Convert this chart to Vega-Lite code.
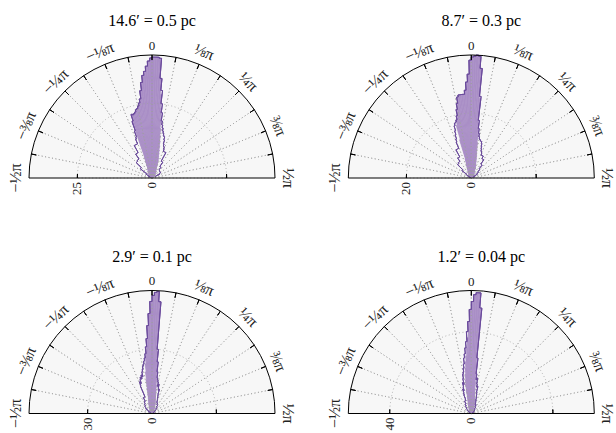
{
"$schema": "https://vega.github.io/schema/vega-lite/v6.json",
"background": "white",
"padding": {"left": 7, "top": 13, "right": 5, "bottom": 5},
"config": {"view": {"stroke": null}, "title": {"font": "Liberation Serif", "fontSize": 16, "fontWeight": "normal", "color": "#000000", "offset": 10}, "text": {"font": "Liberation Serif", "fontSize": 13, "color": "#000000"}},
"datasets": {
"ticks": [{"t":-1.3744},{"t":-1.1781},{"t":-0.9817},{"t":-0.7854},{"t":-0.589},{"t":-0.3927},{"t":-0.1963},{"t":0},{"t":0.1963},{"t":0.3927},{"t":0.589},{"t":0.7854},{"t":0.9817},{"t":1.1781},{"t":1.3744}],
"angles": [{"t":-1.5708,"lab":"−½π"},{"t":-1.1781,"lab":"−⅜π"},{"t":-0.7854,"lab":"−¼π"},{"t":-0.3927,"lab":"−⅛π"},{"t":0,"lab":"0"},{"t":0.3927,"lab":"⅛π"},{"t":0.7854,"lab":"¼π"},{"t":1.1781,"lab":"⅜π"},{"t":1.5708,"lab":"½π"}],
"p1": [
{"a":-1.2,"b":-1.1,"f":0.3,"o":0.7},{"a":-1.1,"b":-1.0,"f":0.7,"o":1.3},{"a":-1.0,"b":-0.9,"f":1.0,"o":2.3},{"a":-0.9,"b":-0.8,"f":1.3,"o":5.0},{"a":-0.8,"b":-0.7,"f":1.7,"o":7.4},{"a":-0.7,"b":-0.6,"f":2.0,"o":7.7},{"a":-0.6,"b":-0.5,"f":2.7,"o":9.7},{"a":-0.5,"b":-0.4,"f":3.4,"o":12.4},
{"a":-0.40,"b":-0.38,"f":4.7,"o":14.1},{"a":-0.38,"b":-0.36,"f":6.0,"o":14.7},{"a":-0.36,"b":-0.34,"f":7.4,"o":16.8},{"a":-0.34,"b":-0.32,"f":20.1,"o":20.1},{"a":-0.32,"b":-0.30,"f":22.1,"o":22.4},{"a":-0.30,"b":-0.28,"f":22.1,"o":22.1},{"a":-0.28,"b":-0.26,"f":22.4,"o":22.4},{"a":-0.26,"b":-0.24,"f":22.8,"o":22.8},{"a":-0.24,"b":-0.22,"f":23.5,"o":23.5},{"a":-0.22,"b":-0.20,"f":23.8,"o":23.8},
{"a":-0.20,"b":-0.18,"f":24.5,"o":24.5},{"a":-0.18,"b":-0.16,"f":25.5,"o":25.5},{"a":-0.16,"b":-0.14,"f":26.8,"o":26.8},{"a":-0.14,"b":-0.12,"f":29.5,"o":29.5},{"a":-0.12,"b":-0.10,"f":32.2,"o":32.2},{"a":-0.10,"b":-0.08,"f":34.5,"o":34.5},{"a":-0.08,"b":-0.06,"f":35.8,"o":35.8},{"a":-0.06,"b":-0.04,"f":37.5,"o":37.5},{"a":-0.04,"b":-0.02,"f":39.2,"o":39.2},{"a":-0.02,"b":0.0,"f":40.2,"o":40.2},
{"a":0.0,"b":0.02,"f":40.5,"o":40.5},{"a":0.02,"b":0.04,"f":40.5,"o":40.5},{"a":0.04,"b":0.06,"f":40.5,"o":40.5},{"a":0.06,"b":0.08,"f":40.2,"o":40.2},{"a":0.08,"b":0.10,"f":33.5,"o":33.5},{"a":0.10,"b":0.12,"f":28.1,"o":29.5},{"a":0.12,"b":0.14,"f":23.5,"o":25.1},{"a":0.14,"b":0.16,"f":20.1,"o":22.1},{"a":0.16,"b":0.18,"f":16.8,"o":19.4},{"a":0.18,"b":0.20,"f":14.4,"o":18.1},
{"a":0.20,"b":0.22,"f":12.7,"o":17.1},{"a":0.22,"b":0.24,"f":11.1,"o":16.1},{"a":0.24,"b":0.26,"f":9.7,"o":15.4},{"a":0.26,"b":0.28,"f":8.7,"o":14.7},{"a":0.28,"b":0.30,"f":7.7,"o":14.4},{"a":0.30,"b":0.32,"f":7.0,"o":13.4},{"a":0.32,"b":0.34,"f":6.4,"o":12.1},{"a":0.34,"b":0.36,"f":5.7,"o":11.4},{"a":0.36,"b":0.38,"f":5.0,"o":11.1},{"a":0.38,"b":0.40,"f":4.4,"o":10.4},
{"a":0.4,"b":0.5,"f":3.4,"o":9.7},{"a":0.5,"b":0.6,"f":2.7,"o":6.4},{"a":0.6,"b":0.7,"f":2.0,"o":4.7},{"a":0.7,"b":0.8,"f":1.7,"o":3.7},{"a":0.8,"b":0.9,"f":1.3,"o":3.4},{"a":0.9,"b":1.0,"f":1.0,"o":3.4},{"a":1.0,"b":1.1,"f":0.7,"o":3.0},{"a":1.1,"b":1.2,"f":0.3,"o":1.3}
],
"p2": [
{"a":-1.2,"b":-1.1,"f":0.3,"o":0.3},{"a":-1.1,"b":-1.0,"f":0.3,"o":0.9},{"a":-1.0,"b":-0.9,"f":0.6,"o":1.8},{"a":-0.9,"b":-0.8,"f":0.9,"o":3.7},{"a":-0.8,"b":-0.7,"f":1.2,"o":5.9},{"a":-0.7,"b":-0.6,"f":1.5,"o":6.2},{"a":-0.6,"b":-0.5,"f":1.8,"o":7.4},{"a":-0.5,"b":-0.4,"f":2.5,"o":9.9},
{"a":-0.40,"b":-0.38,"f":3.1,"o":12.0},{"a":-0.38,"b":-0.36,"f":3.7,"o":12.9},{"a":-0.36,"b":-0.34,"f":4.3,"o":14.2},{"a":-0.34,"b":-0.32,"f":4.9,"o":15.4},{"a":-0.32,"b":-0.30,"f":6.2,"o":16.9},{"a":-0.30,"b":-0.28,"f":12.3,"o":17.6},{"a":-0.28,"b":-0.26,"f":16.9,"o":17.9},{"a":-0.26,"b":-0.24,"f":18.5,"o":18.5},{"a":-0.24,"b":-0.22,"f":19.7,"o":19.7},{"a":-0.22,"b":-0.20,"f":21.6,"o":21.6},
{"a":-0.20,"b":-0.18,"f":23.4,"o":23.4},{"a":-0.18,"b":-0.16,"f":25.3,"o":25.3},{"a":-0.16,"b":-0.14,"f":25.9,"o":25.9},{"a":-0.14,"b":-0.12,"f":25.9,"o":25.9},{"a":-0.12,"b":-0.10,"f":25.9,"o":25.9},{"a":-0.10,"b":-0.08,"f":25.9,"o":25.9},{"a":-0.08,"b":-0.06,"f":27.1,"o":27.1},{"a":-0.06,"b":-0.04,"f":29.6,"o":29.6},{"a":-0.04,"b":-0.02,"f":32.0,"o":32.0},{"a":-0.02,"b":0.0,"f":36.3,"o":36.3},
{"a":0.0,"b":0.02,"f":37.3,"o":37.3},{"a":0.02,"b":0.04,"f":37.6,"o":37.6},{"a":0.04,"b":0.06,"f":37.9,"o":37.9},{"a":0.06,"b":0.08,"f":37.6,"o":37.6},{"a":0.08,"b":0.10,"f":33.9,"o":33.9},{"a":0.10,"b":0.12,"f":24.6,"o":25.3},{"a":0.12,"b":0.14,"f":16.9,"o":17.9},{"a":0.14,"b":0.16,"f":13.6,"o":15.4},{"a":0.16,"b":0.18,"f":11.1,"o":13.9},{"a":0.18,"b":0.20,"f":9.2,"o":12.9},
{"a":0.20,"b":0.22,"f":8.0,"o":12.3},{"a":0.22,"b":0.24,"f":7.1,"o":12.0},{"a":0.24,"b":0.26,"f":6.2,"o":11.7},{"a":0.26,"b":0.28,"f":5.5,"o":11.7},{"a":0.28,"b":0.30,"f":4.9,"o":11.1},{"a":0.30,"b":0.32,"f":4.3,"o":10.2},{"a":0.32,"b":0.34,"f":4.0,"o":9.5},{"a":0.34,"b":0.36,"f":3.7,"o":8.9},{"a":0.36,"b":0.38,"f":3.4,"o":8.6},{"a":0.38,"b":0.40,"f":3.1,"o":8.3},
{"a":0.4,"b":0.5,"f":2.5,"o":7.7},{"a":0.5,"b":0.6,"f":1.8,"o":6.8},{"a":0.6,"b":0.7,"f":1.5,"o":5.2},{"a":0.7,"b":0.8,"f":1.2,"o":3.7},{"a":0.8,"b":0.9,"f":0.9,"o":2.8},{"a":0.9,"b":1.0,"f":0.6,"o":2.2},{"a":1.0,"b":1.1,"f":0.3,"o":1.2},{"a":1.1,"b":1.2,"f":0.3,"o":0.6}
],
"p3": [
{"a":-1.2,"b":-1.1,"f":0.2,"o":0.5},{"a":-1.1,"b":-1.0,"f":0.5,"o":1.4},{"a":-1.0,"b":-0.9,"f":0.5,"o":2.3},{"a":-0.9,"b":-0.8,"f":0.9,"o":3.7},{"a":-0.8,"b":-0.7,"f":0.9,"o":4.7},{"a":-0.7,"b":-0.6,"f":1.4,"o":5.6},{"a":-0.6,"b":-0.5,"f":1.9,"o":6.5},{"a":-0.5,"b":-0.4,"f":2.3,"o":8.4},
{"a":-0.40,"b":-0.38,"f":2.8,"o":14.0},{"a":-0.38,"b":-0.36,"f":3.3,"o":15.8},{"a":-0.36,"b":-0.34,"f":3.7,"o":14.9},{"a":-0.34,"b":-0.32,"f":4.2,"o":16.8},{"a":-0.32,"b":-0.30,"f":4.7,"o":17.7},{"a":-0.30,"b":-0.28,"f":5.1,"o":16.8},{"a":-0.28,"b":-0.26,"f":5.6,"o":18.6},{"a":-0.26,"b":-0.24,"f":6.5,"o":17.7},{"a":-0.24,"b":-0.22,"f":7.5,"o":20.0},{"a":-0.22,"b":-0.20,"f":9.3,"o":21.0},
{"a":-0.20,"b":-0.18,"f":12.1,"o":22.4},{"a":-0.18,"b":-0.16,"f":15.8,"o":23.3},{"a":-0.16,"b":-0.14,"f":19.6,"o":24.7},{"a":-0.14,"b":-0.12,"f":23.3,"o":26.1},{"a":-0.12,"b":-0.10,"f":27.0,"o":28.0},{"a":-0.10,"b":-0.08,"f":30.8,"o":31.2},{"a":-0.08,"b":-0.06,"f":35.0,"o":35.0},{"a":-0.06,"b":-0.04,"f":41.0,"o":41.0},{"a":-0.04,"b":-0.02,"f":46.6,"o":46.6},{"a":-0.02,"b":0.0,"f":52.2,"o":52.2},
{"a":0.0,"b":0.02,"f":55.0,"o":55.0},{"a":0.02,"b":0.04,"f":56.4,"o":56.4},{"a":0.04,"b":0.06,"f":56.9,"o":56.9},{"a":0.06,"b":0.08,"f":52.2,"o":52.2},{"a":0.08,"b":0.10,"f":29.0,"o":30.0},{"a":0.10,"b":0.12,"f":22.4,"o":24.2},{"a":0.12,"b":0.14,"f":16.8,"o":19.6},{"a":0.14,"b":0.16,"f":13.5,"o":16.8},{"a":0.16,"b":0.18,"f":11.2,"o":15.8},{"a":0.18,"b":0.20,"f":9.3,"o":14.9},
{"a":0.20,"b":0.22,"f":7.9,"o":13.0},{"a":0.22,"b":0.24,"f":7.0,"o":14.0},{"a":0.24,"b":0.26,"f":6.1,"o":12.1},{"a":0.26,"b":0.28,"f":5.6,"o":11.2},{"a":0.28,"b":0.30,"f":5.1,"o":11.7},{"a":0.30,"b":0.32,"f":4.7,"o":9.3},{"a":0.32,"b":0.34,"f":4.2,"o":8.4},{"a":0.34,"b":0.36,"f":3.7,"o":7.5},{"a":0.36,"b":0.38,"f":3.3,"o":7.0},{"a":0.38,"b":0.40,"f":2.8,"o":6.5},
{"a":0.4,"b":0.5,"f":2.3,"o":5.6},{"a":0.5,"b":0.6,"f":1.9,"o":4.7},{"a":0.6,"b":0.7,"f":1.4,"o":3.7},{"a":0.7,"b":0.8,"f":0.9,"o":2.8},{"a":0.8,"b":0.9,"f":0.9,"o":1.9},{"a":0.9,"b":1.0,"f":0.5,"o":1.4},{"a":1.0,"b":1.1,"f":0.5,"o":0.9},{"a":1.1,"b":1.2,"f":0.2,"o":0.5}
],
"p4": [
{"a":-1.2,"b":-1.1,"f":0.2,"o":0.5},{"a":-1.1,"b":-1.0,"f":0.5,"o":1.0},{"a":-1.0,"b":-0.9,"f":0.5,"o":1.5},{"a":-0.9,"b":-0.8,"f":1.0,"o":2.5},{"a":-0.8,"b":-0.7,"f":1.0,"o":3.4},{"a":-0.7,"b":-0.6,"f":1.5,"o":4.4},{"a":-0.6,"b":-0.5,"f":2.0,"o":5.4},{"a":-0.5,"b":-0.4,"f":2.5,"o":6.9},
{"a":-0.40,"b":-0.38,"f":2.9,"o":7.8},{"a":-0.38,"b":-0.36,"f":2.9,"o":9.8},{"a":-0.36,"b":-0.34,"f":3.4,"o":10.8},{"a":-0.34,"b":-0.32,"f":3.9,"o":12.7},{"a":-0.32,"b":-0.30,"f":4.4,"o":11.8},{"a":-0.30,"b":-0.28,"f":4.9,"o":13.7},{"a":-0.28,"b":-0.26,"f":5.9,"o":15.7},{"a":-0.26,"b":-0.24,"f":6.9,"o":14.7},{"a":-0.24,"b":-0.22,"f":8.8,"o":17.6},{"a":-0.22,"b":-0.20,"f":11.8,"o":19.6},
{"a":-0.20,"b":-0.18,"f":14.7,"o":20.6},{"a":-0.18,"b":-0.16,"f":16.7,"o":22.5},{"a":-0.16,"b":-0.14,"f":19.6,"o":24.5},{"a":-0.14,"b":-0.12,"f":22.5,"o":27.4},{"a":-0.12,"b":-0.10,"f":25.5,"o":29.4},{"a":-0.10,"b":-0.08,"f":28.4,"o":32.3},{"a":-0.08,"b":-0.06,"f":32.3,"o":35.3},{"a":-0.06,"b":-0.04,"f":37.2,"o":40.2},{"a":-0.04,"b":-0.02,"f":45.1,"o":45.1},{"a":-0.02,"b":0.0,"f":51.0,"o":51.0},
{"a":0.0,"b":0.02,"f":54.9,"o":54.9},{"a":0.02,"b":0.04,"f":58.3,"o":58.3},{"a":0.04,"b":0.06,"f":59.3,"o":59.3},{"a":0.06,"b":0.08,"f":59.3,"o":59.3},{"a":0.08,"b":0.10,"f":51.5,"o":51.9},{"a":0.10,"b":0.12,"f":25.5,"o":27.4},{"a":0.12,"b":0.14,"f":15.7,"o":19.6},{"a":0.14,"b":0.16,"f":12.3,"o":16.7},{"a":0.16,"b":0.18,"f":10.3,"o":17.6},{"a":0.18,"b":0.20,"f":8.8,"o":14.7},
{"a":0.20,"b":0.22,"f":7.8,"o":13.2},{"a":0.22,"b":0.24,"f":6.9,"o":13.7},{"a":0.24,"b":0.26,"f":6.4,"o":10.8},{"a":0.26,"b":0.28,"f":5.9,"o":9.8},{"a":0.28,"b":0.30,"f":5.4,"o":8.8},{"a":0.30,"b":0.32,"f":4.9,"o":7.8},{"a":0.32,"b":0.34,"f":4.4,"o":6.9},{"a":0.34,"b":0.36,"f":3.9,"o":6.4},{"a":0.36,"b":0.38,"f":3.4,"o":5.9},{"a":0.38,"b":0.40,"f":2.9,"o":5.4},
{"a":0.4,"b":0.5,"f":2.5,"o":4.9},{"a":0.5,"b":0.6,"f":2.0,"o":3.9},{"a":0.6,"b":0.7,"f":1.5,"o":2.9},{"a":0.7,"b":0.8,"f":1.0,"o":2.5},{"a":0.8,"b":0.9,"f":1.0,"o":2.0},{"a":0.9,"b":1.0,"f":0.5,"o":1.5},{"a":1.0,"b":1.1,"f":0.5,"o":1.0},{"a":1.1,"b":1.2,"f":0.2,"o":0.5}
]
},
"columns": 2,
"spacing": {"row": 112.5, "column": 73.3},
"bounds": "flush",
"resolve": {"scale": {"radius": "independent"}},
"concat": [
{
"width": 246, "height": 123,
"title": {"text": "14.6′ = 0.5 pc"},
"encoding": {"x": {"datum": 0, "type": "quantitative", "scale": {"domain": [-1, 1], "nice": false, "zero": false}, "axis": null}, "y": {"datum": 0, "type": "quantitative", "scale": {"domain": [0, 1], "nice": false}, "axis": null}},
"layer": [
{"data": {"values": [{}]}, "mark": {"type": "arc", "fill": "#f7f7f7"}, "encoding": {"theta": {"datum": -1.5708, "scale": null, "stack": null}, "theta2": {"datum": 1.5708}, "radius": {"datum": 41.2, "type": "quantitative", "scale": {"domain": [0, 41.2], "range": [0, 123]}}}},
{"data": {"name": "p1"}, "mark": {"type": "arc", "fill": "#a98ec6", "stroke": "#a98ec6", "strokeWidth": 0.6}, "encoding": {"theta": {"field": "a", "type": "quantitative", "scale": null, "stack": null}, "theta2": {"field": "b"}, "radius": {"field": "f", "type": "quantitative", "scale": {"domain": [0, 41.2], "range": [0, 123]}}}},
{"data": {"values": [{}]}, "mark": {"type": "arc", "filled": false, "stroke": "#a0a0a0", "strokeWidth": 0.8, "strokeDash": [1, 2.5]}, "encoding": {"theta": {"datum": -1.5708, "scale": null, "stack": null}, "theta2": {"datum": 1.5708}, "radius": {"datum": 25, "type": "quantitative", "scale": {"domain": [0, 41.2], "range": [0, 123]}}}},
{"data": {"name": "ticks"}, "mark": {"type": "arc", "filled": false, "stroke": "#a0a0a0", "strokeWidth": 0.8, "strokeDash": [1, 2.5]}, "encoding": {"theta": {"field": "t", "type": "quantitative", "scale": null, "stack": null}, "theta2": {"field": "t"}, "radius": {"datum": 41.2, "type": "quantitative", "scale": {"domain": [0, 41.2], "range": [0, 123]}}}},
{"data": {"name": "p1"}, "mark": {"type": "arc", "filled": false, "stroke": "#6a4a9c", "strokeWidth": 1}, "encoding": {"theta": {"field": "a", "type": "quantitative", "scale": null, "stack": null}, "theta2": {"field": "b"}, "radius": {"field": "o", "type": "quantitative", "scale": {"domain": [0, 41.2], "range": [0, 123]}}, "radius2": {"field": "o"}}},
{"data": {"name": "p1"}, "transform": [{"window": [{"op": "lead", "field": "o", "as": "on"}], "sort": [{"field": "a"}]}, {"filter": {"field": "on", "valid": true}}], "mark": {"type": "arc", "filled": false, "stroke": "#6a4a9c", "strokeWidth": 1}, "encoding": {"theta": {"field": "b", "type": "quantitative", "scale": null, "stack": null}, "theta2": {"field": "b"}, "radius": {"field": "o", "type": "quantitative", "scale": {"domain": [0, 41.2], "range": [0, 123]}}, "radius2": {"field": "on"}}},
{"data": {"values": [{}]}, "mark": {"type": "arc", "filled": false, "stroke": "#000000", "strokeWidth": 1}, "encoding": {"theta": {"datum": -1.5708, "scale": null, "stack": null}, "theta2": {"datum": 1.5708}, "radius": {"datum": 41.2, "type": "quantitative", "scale": {"domain": [0, 41.2], "range": [0, 123]}}}},
{"data": {"name": "ticks"}, "mark": {"type": "arc", "filled": false, "stroke": "#000000", "strokeWidth": 1}, "encoding": {"theta": {"field": "t", "type": "quantitative", "scale": null, "stack": null}, "theta2": {"field": "t"}, "radius": {"datum": 41.2, "type": "quantitative", "scale": {"domain": [0, 41.2], "range": [0, 123]}}, "radius2": {"datum": 39.5}}},
{"data": {"values": [{"s": -1.5708, "e": -1.5168}, {"s": 1.5168, "e": 1.5708}]}, "mark": {"type": "arc", "filled": false, "stroke": "#000000", "strokeWidth": 1}, "encoding": {"theta": {"field": "s", "type": "quantitative", "scale": null, "stack": null}, "theta2": {"field": "e"}, "radius": {"datum": 25, "type": "quantitative", "scale": {"domain": [0, 41.2], "range": [0, 123]}}, "radius2": {"datum": 25}}},
{"data": {"name": "angles"}, "transform": [{"filter": "datum.t != 0"}], "mark": {"type": "text", "align": "center", "baseline": "middle", "fontSize": 16, "color": "#222222"}, "encoding": {"theta": {"field": "t", "type": "quantitative", "scale": null, "stack": null}, "radius": {"datum": 45.6, "type": "quantitative", "scale": {"domain": [0, 41.2], "range": [0, 123]}}, "text": {"field": "lab"}, "angle": {"field": "t", "type": "quantitative", "scale": {"domain": [-1.5708, 1.5708], "range": [-90, 90]}, "legend": null}}},
{"data": {"name": "angles"}, "transform": [{"filter": "datum.t == 0"}], "mark": {"type": "text", "align": "center", "baseline": "middle", "fontSize": 13, "color": "#222222"}, "encoding": {"theta": {"field": "t", "type": "quantitative", "scale": null, "stack": null}, "radius": {"datum": 44.2, "type": "quantitative", "scale": {"domain": [0, 41.2], "range": [0, 123]}}, "text": {"field": "lab"}}},
{"data": {"values": [{"r": 0, "lab": "0"}, {"r": 25, "lab": "25"}]}, "mark": {"type": "text", "angle": 270, "align": "right", "baseline": "middle", "dx": -4, "color": "#222222"}, "encoding": {"theta": {"datum": -1.5708, "scale": null, "stack": null}, "radius": {"field": "r", "type": "quantitative", "scale": {"domain": [0, 41.2], "range": [0, 123]}}, "text": {"field": "lab"}}}
]
},
{
"width": 246, "height": 123,
"title": {"text": "8.7′ = 0.3 pc", "dx": 10},
"encoding": {"x": {"datum": 0, "type": "quantitative", "scale": {"domain": [-1, 1], "nice": false, "zero": false}, "axis": null}, "y": {"datum": 0, "type": "quantitative", "scale": {"domain": [0, 1], "nice": false}, "axis": null}},
"layer": [
{"data": {"values": [{}]}, "mark": {"type": "arc", "fill": "#f7f7f7"}, "encoding": {"theta": {"datum": -1.5708, "scale": null, "stack": null}, "theta2": {"datum": 1.5708}, "radius": {"datum": 37.9, "type": "quantitative", "scale": {"domain": [0, 37.9], "range": [0, 123]}}}},
{"data": {"name": "p2"}, "mark": {"type": "arc", "fill": "#a98ec6", "stroke": "#a98ec6", "strokeWidth": 0.6}, "encoding": {"theta": {"field": "a", "type": "quantitative", "scale": null, "stack": null}, "theta2": {"field": "b"}, "radius": {"field": "f", "type": "quantitative", "scale": {"domain": [0, 37.9], "range": [0, 123]}}}},
{"data": {"values": [{}]}, "mark": {"type": "arc", "filled": false, "stroke": "#a0a0a0", "strokeWidth": 0.8, "strokeDash": [1, 2.5]}, "encoding": {"theta": {"datum": -1.5708, "scale": null, "stack": null}, "theta2": {"datum": 1.5708}, "radius": {"datum": 20, "type": "quantitative", "scale": {"domain": [0, 37.9], "range": [0, 123]}}}},
{"data": {"name": "ticks"}, "mark": {"type": "arc", "filled": false, "stroke": "#a0a0a0", "strokeWidth": 0.8, "strokeDash": [1, 2.5]}, "encoding": {"theta": {"field": "t", "type": "quantitative", "scale": null, "stack": null}, "theta2": {"field": "t"}, "radius": {"datum": 37.9, "type": "quantitative", "scale": {"domain": [0, 37.9], "range": [0, 123]}}}},
{"data": {"name": "p2"}, "mark": {"type": "arc", "filled": false, "stroke": "#6a4a9c", "strokeWidth": 1}, "encoding": {"theta": {"field": "a", "type": "quantitative", "scale": null, "stack": null}, "theta2": {"field": "b"}, "radius": {"field": "o", "type": "quantitative", "scale": {"domain": [0, 37.9], "range": [0, 123]}}, "radius2": {"field": "o"}}},
{"data": {"name": "p2"}, "transform": [{"window": [{"op": "lead", "field": "o", "as": "on"}], "sort": [{"field": "a"}]}, {"filter": {"field": "on", "valid": true}}], "mark": {"type": "arc", "filled": false, "stroke": "#6a4a9c", "strokeWidth": 1}, "encoding": {"theta": {"field": "b", "type": "quantitative", "scale": null, "stack": null}, "theta2": {"field": "b"}, "radius": {"field": "o", "type": "quantitative", "scale": {"domain": [0, 37.9], "range": [0, 123]}}, "radius2": {"field": "on"}}},
{"data": {"values": [{}]}, "mark": {"type": "arc", "filled": false, "stroke": "#000000", "strokeWidth": 1}, "encoding": {"theta": {"datum": -1.5708, "scale": null, "stack": null}, "theta2": {"datum": 1.5708}, "radius": {"datum": 37.9, "type": "quantitative", "scale": {"domain": [0, 37.9], "range": [0, 123]}}}},
{"data": {"name": "ticks"}, "mark": {"type": "arc", "filled": false, "stroke": "#000000", "strokeWidth": 1}, "encoding": {"theta": {"field": "t", "type": "quantitative", "scale": null, "stack": null}, "theta2": {"field": "t"}, "radius": {"datum": 37.9, "type": "quantitative", "scale": {"domain": [0, 37.9], "range": [0, 123]}}, "radius2": {"datum": 36.4}}},
{"data": {"values": [{"s": -1.5708, "e": -1.5088}, {"s": 1.5088, "e": 1.5708}]}, "mark": {"type": "arc", "filled": false, "stroke": "#000000", "strokeWidth": 1}, "encoding": {"theta": {"field": "s", "type": "quantitative", "scale": null, "stack": null}, "theta2": {"field": "e"}, "radius": {"datum": 20, "type": "quantitative", "scale": {"domain": [0, 37.9], "range": [0, 123]}}, "radius2": {"datum": 20}}},
{"data": {"name": "angles"}, "transform": [{"filter": "datum.t != 0"}], "mark": {"type": "text", "align": "center", "baseline": "middle", "fontSize": 16, "color": "#222222"}, "encoding": {"theta": {"field": "t", "type": "quantitative", "scale": null, "stack": null}, "radius": {"datum": 41.9, "type": "quantitative", "scale": {"domain": [0, 37.9], "range": [0, 123]}}, "text": {"field": "lab"}, "angle": {"field": "t", "type": "quantitative", "scale": {"domain": [-1.5708, 1.5708], "range": [-90, 90]}, "legend": null}}},
{"data": {"name": "angles"}, "transform": [{"filter": "datum.t == 0"}], "mark": {"type": "text", "align": "center", "baseline": "middle", "fontSize": 13, "color": "#222222"}, "encoding": {"theta": {"field": "t", "type": "quantitative", "scale": null, "stack": null}, "radius": {"datum": 40.7, "type": "quantitative", "scale": {"domain": [0, 37.9], "range": [0, 123]}}, "text": {"field": "lab"}}},
{"data": {"values": [{"r": 0, "lab": "0"}, {"r": 20, "lab": "20"}]}, "mark": {"type": "text", "angle": 270, "align": "right", "baseline": "middle", "dx": -4, "color": "#222222"}, "encoding": {"theta": {"datum": -1.5708, "scale": null, "stack": null}, "radius": {"field": "r", "type": "quantitative", "scale": {"domain": [0, 37.9], "range": [0, 123]}}, "text": {"field": "lab"}}}
]
},
{
"width": 246, "height": 123,
"title": {"text": "2.9′ = 0.1 pc"},
"encoding": {"x": {"datum": 0, "type": "quantitative", "scale": {"domain": [-1, 1], "nice": false, "zero": false}, "axis": null}, "y": {"datum": 0, "type": "quantitative", "scale": {"domain": [0, 1], "nice": false}, "axis": null}},
"layer": [
{"data": {"values": [{}]}, "mark": {"type": "arc", "fill": "#f7f7f7"}, "encoding": {"theta": {"datum": -1.5708, "scale": null, "stack": null}, "theta2": {"datum": 1.5708}, "radius": {"datum": 57.3, "type": "quantitative", "scale": {"domain": [0, 57.3], "range": [0, 123]}}}},
{"data": {"name": "p3"}, "mark": {"type": "arc", "fill": "#a98ec6", "stroke": "#a98ec6", "strokeWidth": 0.6}, "encoding": {"theta": {"field": "a", "type": "quantitative", "scale": null, "stack": null}, "theta2": {"field": "b"}, "radius": {"field": "f", "type": "quantitative", "scale": {"domain": [0, 57.3], "range": [0, 123]}}}},
{"data": {"values": [{}]}, "mark": {"type": "arc", "filled": false, "stroke": "#a0a0a0", "strokeWidth": 0.8, "strokeDash": [1, 2.5]}, "encoding": {"theta": {"datum": -1.5708, "scale": null, "stack": null}, "theta2": {"datum": 1.5708}, "radius": {"datum": 30, "type": "quantitative", "scale": {"domain": [0, 57.3], "range": [0, 123]}}}},
{"data": {"name": "ticks"}, "mark": {"type": "arc", "filled": false, "stroke": "#a0a0a0", "strokeWidth": 0.8, "strokeDash": [1, 2.5]}, "encoding": {"theta": {"field": "t", "type": "quantitative", "scale": null, "stack": null}, "theta2": {"field": "t"}, "radius": {"datum": 57.3, "type": "quantitative", "scale": {"domain": [0, 57.3], "range": [0, 123]}}}},
{"data": {"name": "p3"}, "mark": {"type": "arc", "filled": false, "stroke": "#6a4a9c", "strokeWidth": 1}, "encoding": {"theta": {"field": "a", "type": "quantitative", "scale": null, "stack": null}, "theta2": {"field": "b"}, "radius": {"field": "o", "type": "quantitative", "scale": {"domain": [0, 57.3], "range": [0, 123]}}, "radius2": {"field": "o"}}},
{"data": {"name": "p3"}, "transform": [{"window": [{"op": "lead", "field": "o", "as": "on"}], "sort": [{"field": "a"}]}, {"filter": {"field": "on", "valid": true}}], "mark": {"type": "arc", "filled": false, "stroke": "#6a4a9c", "strokeWidth": 1}, "encoding": {"theta": {"field": "b", "type": "quantitative", "scale": null, "stack": null}, "theta2": {"field": "b"}, "radius": {"field": "o", "type": "quantitative", "scale": {"domain": [0, 57.3], "range": [0, 123]}}, "radius2": {"field": "on"}}},
{"data": {"values": [{}]}, "mark": {"type": "arc", "filled": false, "stroke": "#000000", "strokeWidth": 1}, "encoding": {"theta": {"datum": -1.5708, "scale": null, "stack": null}, "theta2": {"datum": 1.5708}, "radius": {"datum": 57.3, "type": "quantitative", "scale": {"domain": [0, 57.3], "range": [0, 123]}}}},
{"data": {"name": "ticks"}, "mark": {"type": "arc", "filled": false, "stroke": "#000000", "strokeWidth": 1}, "encoding": {"theta": {"field": "t", "type": "quantitative", "scale": null, "stack": null}, "theta2": {"field": "t"}, "radius": {"datum": 57.3, "type": "quantitative", "scale": {"domain": [0, 57.3], "range": [0, 123]}}, "radius2": {"datum": 55.0}}},
{"data": {"values": [{"s": -1.5708, "e": -1.5088}, {"s": 1.5088, "e": 1.5708}]}, "mark": {"type": "arc", "filled": false, "stroke": "#000000", "strokeWidth": 1}, "encoding": {"theta": {"field": "s", "type": "quantitative", "scale": null, "stack": null}, "theta2": {"field": "e"}, "radius": {"datum": 30, "type": "quantitative", "scale": {"domain": [0, 57.3], "range": [0, 123]}}, "radius2": {"datum": 30}}},
{"data": {"name": "angles"}, "transform": [{"filter": "datum.t != 0"}], "mark": {"type": "text", "align": "center", "baseline": "middle", "fontSize": 16, "color": "#222222"}, "encoding": {"theta": {"field": "t", "type": "quantitative", "scale": null, "stack": null}, "radius": {"datum": 63.4, "type": "quantitative", "scale": {"domain": [0, 57.3], "range": [0, 123]}}, "text": {"field": "lab"}, "angle": {"field": "t", "type": "quantitative", "scale": {"domain": [-1.5708, 1.5708], "range": [-90, 90]}, "legend": null}}},
{"data": {"name": "angles"}, "transform": [{"filter": "datum.t == 0"}], "mark": {"type": "text", "align": "center", "baseline": "middle", "fontSize": 13, "color": "#222222"}, "encoding": {"theta": {"field": "t", "type": "quantitative", "scale": null, "stack": null}, "radius": {"datum": 61.5, "type": "quantitative", "scale": {"domain": [0, 57.3], "range": [0, 123]}}, "text": {"field": "lab"}}},
{"data": {"values": [{"r": 0, "lab": "0"}, {"r": 30, "lab": "30"}]}, "mark": {"type": "text", "angle": 270, "align": "right", "baseline": "middle", "dx": -4, "color": "#222222"}, "encoding": {"theta": {"datum": -1.5708, "scale": null, "stack": null}, "radius": {"field": "r", "type": "quantitative", "scale": {"domain": [0, 57.3], "range": [0, 123]}}, "text": {"field": "lab"}}}
]
},
{
"width": 246, "height": 123,
"title": {"text": "1.2′ = 0.04 pc", "dx": 10},
"encoding": {"x": {"datum": 0, "type": "quantitative", "scale": {"domain": [-1, 1], "nice": false, "zero": false}, "axis": null}, "y": {"datum": 0, "type": "quantitative", "scale": {"domain": [0, 1], "nice": false}, "axis": null}},
"layer": [
{"data": {"values": [{}]}, "mark": {"type": "arc", "fill": "#f7f7f7"}, "encoding": {"theta": {"datum": -1.5708, "scale": null, "stack": null}, "theta2": {"datum": 1.5708}, "radius": {"datum": 60.3, "type": "quantitative", "scale": {"domain": [0, 60.3], "range": [0, 123]}}}},
{"data": {"name": "p4"}, "mark": {"type": "arc", "fill": "#a98ec6", "stroke": "#a98ec6", "strokeWidth": 0.6}, "encoding": {"theta": {"field": "a", "type": "quantitative", "scale": null, "stack": null}, "theta2": {"field": "b"}, "radius": {"field": "f", "type": "quantitative", "scale": {"domain": [0, 60.3], "range": [0, 123]}}}},
{"data": {"values": [{}]}, "mark": {"type": "arc", "filled": false, "stroke": "#a0a0a0", "strokeWidth": 0.8, "strokeDash": [1, 2.5]}, "encoding": {"theta": {"datum": -1.5708, "scale": null, "stack": null}, "theta2": {"datum": 1.5708}, "radius": {"datum": 40, "type": "quantitative", "scale": {"domain": [0, 60.3], "range": [0, 123]}}}},
{"data": {"name": "ticks"}, "mark": {"type": "arc", "filled": false, "stroke": "#a0a0a0", "strokeWidth": 0.8, "strokeDash": [1, 2.5]}, "encoding": {"theta": {"field": "t", "type": "quantitative", "scale": null, "stack": null}, "theta2": {"field": "t"}, "radius": {"datum": 60.3, "type": "quantitative", "scale": {"domain": [0, 60.3], "range": [0, 123]}}}},
{"data": {"name": "p4"}, "mark": {"type": "arc", "filled": false, "stroke": "#6a4a9c", "strokeWidth": 1}, "encoding": {"theta": {"field": "a", "type": "quantitative", "scale": null, "stack": null}, "theta2": {"field": "b"}, "radius": {"field": "o", "type": "quantitative", "scale": {"domain": [0, 60.3], "range": [0, 123]}}, "radius2": {"field": "o"}}},
{"data": {"name": "p4"}, "transform": [{"window": [{"op": "lead", "field": "o", "as": "on"}], "sort": [{"field": "a"}]}, {"filter": {"field": "on", "valid": true}}], "mark": {"type": "arc", "filled": false, "stroke": "#6a4a9c", "strokeWidth": 1}, "encoding": {"theta": {"field": "b", "type": "quantitative", "scale": null, "stack": null}, "theta2": {"field": "b"}, "radius": {"field": "o", "type": "quantitative", "scale": {"domain": [0, 60.3], "range": [0, 123]}}, "radius2": {"field": "on"}}},
{"data": {"values": [{}]}, "mark": {"type": "arc", "filled": false, "stroke": "#000000", "strokeWidth": 1}, "encoding": {"theta": {"datum": -1.5708, "scale": null, "stack": null}, "theta2": {"datum": 1.5708}, "radius": {"datum": 60.3, "type": "quantitative", "scale": {"domain": [0, 60.3], "range": [0, 123]}}}},
{"data": {"name": "ticks"}, "mark": {"type": "arc", "filled": false, "stroke": "#000000", "strokeWidth": 1}, "encoding": {"theta": {"field": "t", "type": "quantitative", "scale": null, "stack": null}, "theta2": {"field": "t"}, "radius": {"datum": 60.3, "type": "quantitative", "scale": {"domain": [0, 60.3], "range": [0, 123]}}, "radius2": {"datum": 57.8}}},
{"data": {"values": [{"s": -1.5708, "e": -1.5218}, {"s": 1.5218, "e": 1.5708}]}, "mark": {"type": "arc", "filled": false, "stroke": "#000000", "strokeWidth": 1}, "encoding": {"theta": {"field": "s", "type": "quantitative", "scale": null, "stack": null}, "theta2": {"field": "e"}, "radius": {"datum": 40, "type": "quantitative", "scale": {"domain": [0, 60.3], "range": [0, 123]}}, "radius2": {"datum": 40}}},
{"data": {"name": "angles"}, "transform": [{"filter": "datum.t != 0"}], "mark": {"type": "text", "align": "center", "baseline": "middle", "fontSize": 16, "color": "#222222"}, "encoding": {"theta": {"field": "t", "type": "quantitative", "scale": null, "stack": null}, "radius": {"datum": 66.7, "type": "quantitative", "scale": {"domain": [0, 60.3], "range": [0, 123]}}, "text": {"field": "lab"}, "angle": {"field": "t", "type": "quantitative", "scale": {"domain": [-1.5708, 1.5708], "range": [-90, 90]}, "legend": null}}},
{"data": {"name": "angles"}, "transform": [{"filter": "datum.t == 0"}], "mark": {"type": "text", "align": "center", "baseline": "middle", "fontSize": 13, "color": "#222222"}, "encoding": {"theta": {"field": "t", "type": "quantitative", "scale": null, "stack": null}, "radius": {"datum": 64.7, "type": "quantitative", "scale": {"domain": [0, 60.3], "range": [0, 123]}}, "text": {"field": "lab"}}},
{"data": {"values": [{"r": 0, "lab": "0"}, {"r": 40, "lab": "40"}]}, "mark": {"type": "text", "angle": 270, "align": "right", "baseline": "middle", "dx": -4, "color": "#222222"}, "encoding": {"theta": {"datum": -1.5708, "scale": null, "stack": null}, "radius": {"field": "r", "type": "quantitative", "scale": {"domain": [0, 60.3], "range": [0, 123]}}, "text": {"field": "lab"}}}
]
}
]
}
